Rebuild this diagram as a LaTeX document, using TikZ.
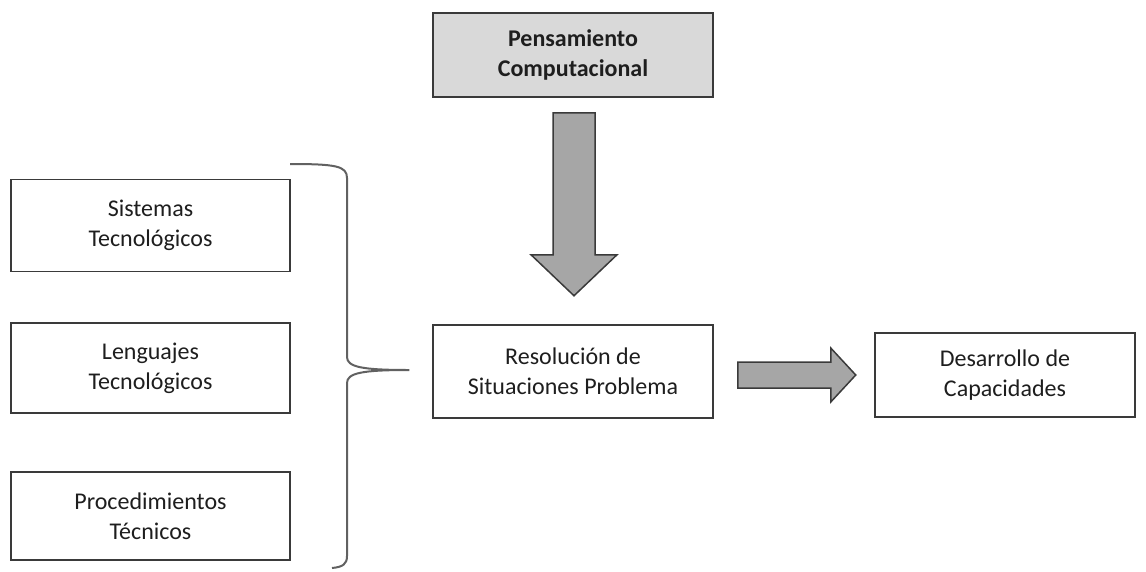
\documentclass[tikz,border=0pt]{standalone}
\usepackage{fontspec}
\setmainfont{Carlito}
\usetikzlibrary{calc}
\definecolor{boxfill}{HTML}{D9D9D9}
\definecolor{arrowfill}{HTML}{A6A6A6}
\definecolor{edge}{HTML}{3A3A3A}
\definecolor{ink}{HTML}{1E1E1E}
\tikzset{
  box/.style={draw=edge, line width=1.5pt, fill=white, text=ink,
    inner sep=0pt, align=center,
    font=\fontsize{24}{30}\selectfont},
  boxL/.style={box, minimum width=279pt, minimum height=92pt},
  boxM/.style={box, minimum width=280pt, minimum height=92pt},
  blockarrow/.style={draw=edge, line width=1.5pt, fill=arrowfill, line join=miter},
  bracepath/.style={draw=edge!80, line width=2pt}
}
\begin{document}
\begin{tikzpicture}[x=1pt, y=-1pt]
\useasboundingbox (0,0) rectangle (1146,571);

% boxes
\node[boxM, fill=boxfill, minimum height=84pt, font=\fontsize{24}{30}\selectfont\bfseries]
  (pc) at (573,55) {Pensamiento\\Computacional};
\node[boxL] (st) at (150.5,225.5) {Sistemas\\Tecnológicos};
\node[boxL, minimum height=90pt] (lt) at (150.5,368) {Lenguajes\\Tecnológicos};
\node[boxL, minimum height=88pt] (pt) at (150.5,516) {Procedimientos\\Técnicos};
\node[boxM, minimum height=93pt] (rs) at (573,371.5) {Resolución de\\Situaciones Problema};
\node[box, minimum width=260pt, minimum height=84pt] (dc) at (1005,375) {Desarrollo de\\Capacidades};

% downward block arrow between the top box and the central box
\coordinate (dtop) at ($(pc.south)+(1,15)$);
\draw[blockarrow] (dtop) ++(-21,0) -- ++(42,0) -- ++(0,142) -- ++(22,0)
  -- ++(-43,41) -- ++(-43,-41) -- ++(22,0) -- cycle;

% rightward block arrow between the central box and the result box
\coordinate (rstart) at ($(rs.east)+(24,3.5)$);
\draw[blockarrow] (rstart) ++(0,-13) -- ++(93,0) -- ++(0,-14) -- ++(25,27)
  -- ++(-25,27) -- ++(0,-14) -- ++(-93,0) -- cycle;

% curly brace grouping the three left boxes
\coordinate (btip) at ($(rs.west)+(-23,-1.5)$);
\draw[bracepath] (290,164) .. controls (336,164) and (347,166) .. (347,178)
  -- (347,357) .. controls (347,367) and (362,370) .. (btip)
  .. controls (362,370) and (347,373) .. (347,383)
  -- (347,556) .. controls (347,564) and (343,567) .. (332,568);
\end{tikzpicture}
\end{document}
